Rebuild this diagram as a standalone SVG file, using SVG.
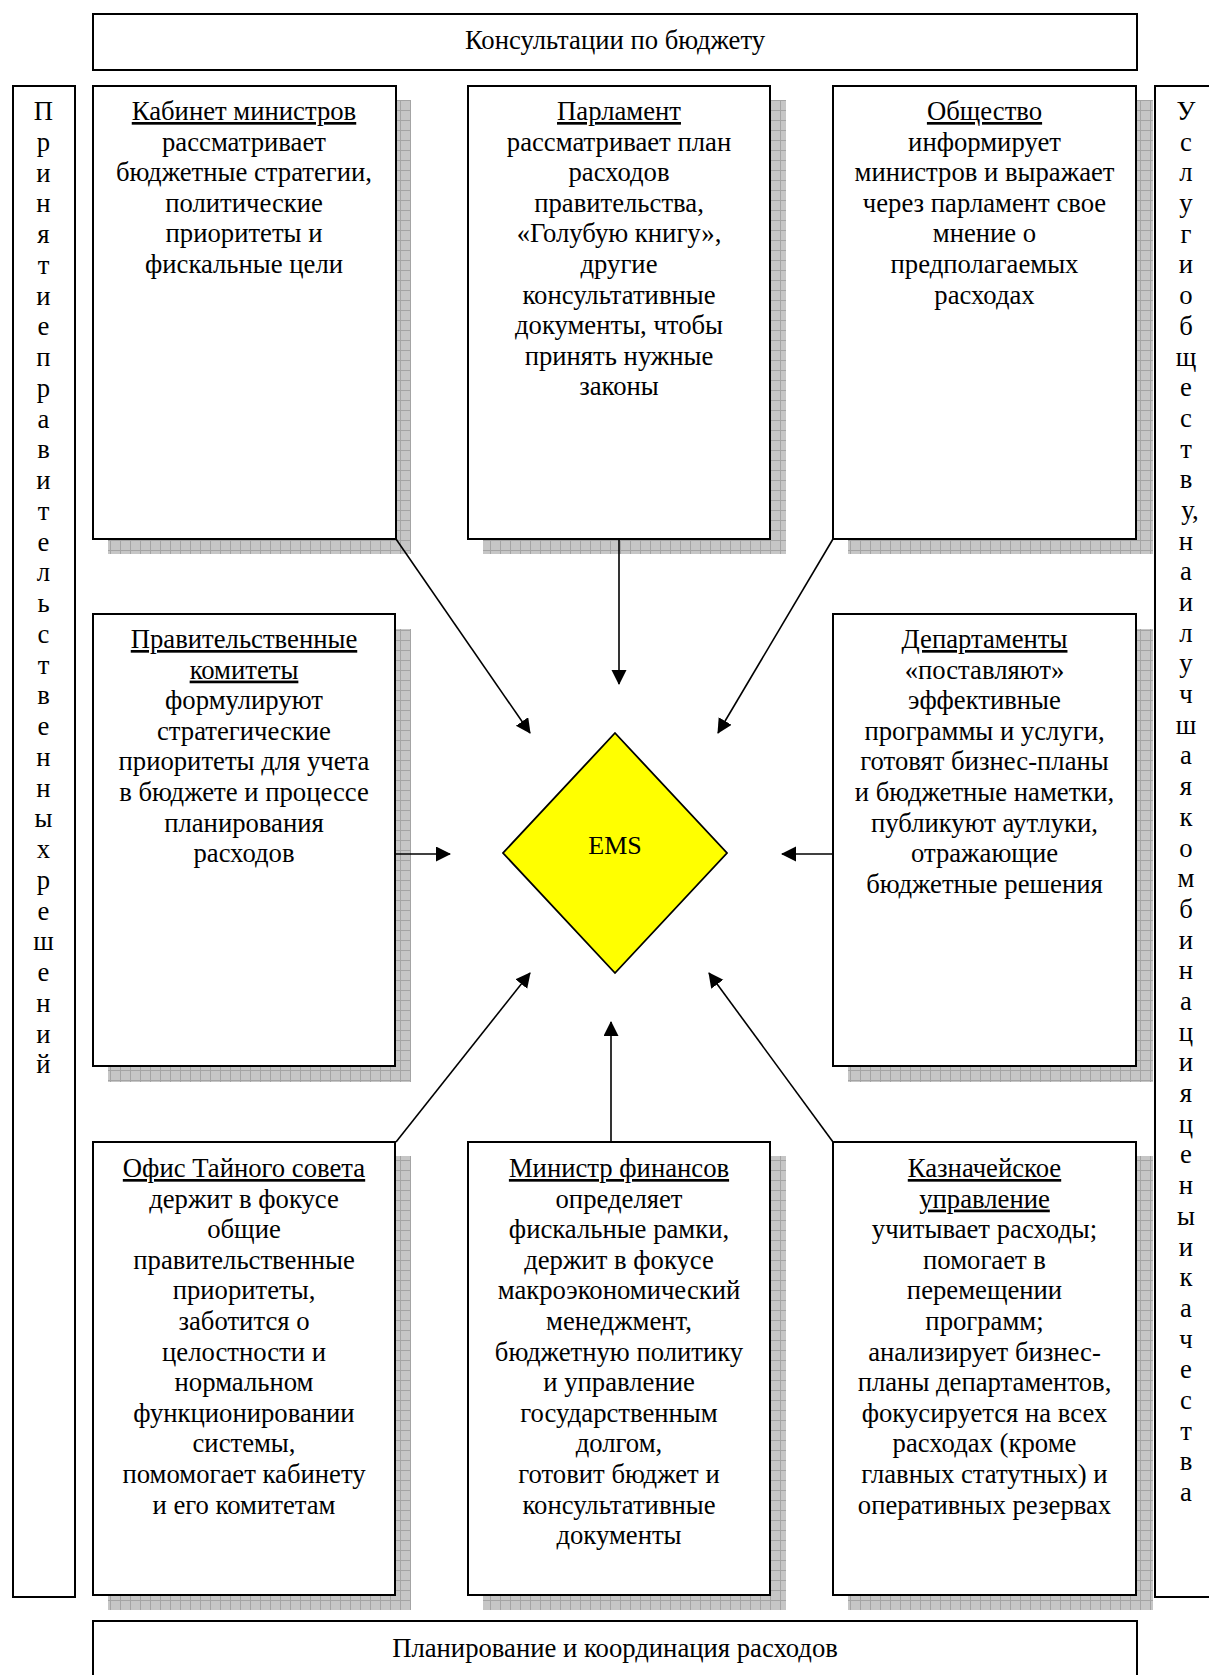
<svg xmlns="http://www.w3.org/2000/svg" width="1209" height="1675" viewBox="0 0 1209 1675">
<style>
  .box{fill:#fff;stroke:#000;stroke-width:2}
  .sh{fill:url(#grid)}
  .t{font-family:"Liberation Serif","Times New Roman",serif;font-size:26.7px;fill:#000;text-anchor:middle}
  .u{text-decoration:underline}
  .c{stroke:#000;stroke-width:1.6;fill:none;marker-end:url(#ah)}
</style>
<defs>
  <pattern id="grid" patternUnits="userSpaceOnUse" width="10" height="10">
    <rect width="10" height="10" fill="#c6c6c6"/>
    <path d="M0,0.5H10M0.5,0V10" stroke="#a4a4a4" stroke-width="1"/>
  </pattern>
  <marker id="ah" markerUnits="userSpaceOnUse" markerWidth="16" markerHeight="16" refX="14" refY="7.5" orient="auto">
    <path d="M0,0L15,7.5L0,15z" fill="#000"/>
  </marker>
</defs>
<rect width="1209" height="1675" fill="#fff"/>

<g id="top">
  <rect class="box" x="93" y="14" width="1044" height="56"/>
  <text class="t" x="615" y="48.5">Консультации по бюджету</text>
</g>
<g id="bottom">
  <rect class="box" x="93" y="1621" width="1044" height="70"/>
  <text class="t" x="615" y="1657">Планирование и координация расходов</text>
</g>
<g id="leftbar">
  <rect class="box" x="13" y="86" width="62" height="1511"/>
  <text class="t" x="43.5" y="120"><tspan x="43.5">П</tspan><tspan x="43.5" dy="30.75">р</tspan><tspan x="43.5" dy="30.75">и</tspan><tspan x="43.5" dy="30.75">н</tspan><tspan x="43.5" dy="30.75">я</tspan><tspan x="43.5" dy="30.75">т</tspan><tspan x="43.5" dy="30.75">и</tspan><tspan x="43.5" dy="30.75">е</tspan><tspan x="43.5" dy="30.75">п</tspan><tspan x="43.5" dy="30.75">р</tspan><tspan x="43.5" dy="30.75">а</tspan><tspan x="43.5" dy="30.75">в</tspan><tspan x="43.5" dy="30.75">и</tspan><tspan x="43.5" dy="30.75">т</tspan><tspan x="43.5" dy="30.75">е</tspan><tspan x="43.5" dy="30.75">л</tspan><tspan x="43.5" dy="30.75">ь</tspan><tspan x="43.5" dy="30.75">с</tspan><tspan x="43.5" dy="30.75">т</tspan><tspan x="43.5" dy="30.75">в</tspan><tspan x="43.5" dy="30.75">е</tspan><tspan x="43.5" dy="30.75">н</tspan><tspan x="43.5" dy="30.75">н</tspan><tspan x="43.5" dy="30.75">ы</tspan><tspan x="43.5" dy="30.75">х</tspan><tspan x="43.5" dy="30.75">р</tspan><tspan x="43.5" dy="30.75">е</tspan><tspan x="43.5" dy="30.75">ш</tspan><tspan x="43.5" dy="30.75">е</tspan><tspan x="43.5" dy="30.75">н</tspan><tspan x="43.5" dy="30.75">и</tspan><tspan x="43.5" dy="30.75">й</tspan></text>
</g>
<g id="rightbar">
  <rect class="box" x="1155" y="86" width="70" height="1511"/>
  <text class="t" x="1186" y="120"><tspan x="1186">У</tspan><tspan x="1186" dy="30.69">с</tspan><tspan x="1186" dy="30.69">л</tspan><tspan x="1186" dy="30.69">у</tspan><tspan x="1186" dy="30.69">г</tspan><tspan x="1186" dy="30.69">и</tspan><tspan x="1186" dy="30.69">о</tspan><tspan x="1186" dy="30.69">б</tspan><tspan x="1186" dy="30.69">щ</tspan><tspan x="1186" dy="30.69">е</tspan><tspan x="1186" dy="30.69">с</tspan><tspan x="1186" dy="30.69">т</tspan><tspan x="1186" dy="30.69">в</tspan><tspan x="1190" dy="30.69">у,</tspan><tspan x="1186" dy="30.69">н</tspan><tspan x="1186" dy="30.69">а</tspan><tspan x="1186" dy="30.69">и</tspan><tspan x="1186" dy="30.69">л</tspan><tspan x="1186" dy="30.69">у</tspan><tspan x="1186" dy="30.69">ч</tspan><tspan x="1186" dy="30.69">ш</tspan><tspan x="1186" dy="30.69">а</tspan><tspan x="1186" dy="30.69">я</tspan><tspan x="1186" dy="30.69">к</tspan><tspan x="1186" dy="30.69">о</tspan><tspan x="1186" dy="30.69">м</tspan><tspan x="1186" dy="30.69">б</tspan><tspan x="1186" dy="30.69">и</tspan><tspan x="1186" dy="30.69">н</tspan><tspan x="1186" dy="30.69">а</tspan><tspan x="1186" dy="30.69">ц</tspan><tspan x="1186" dy="30.69">и</tspan><tspan x="1186" dy="30.69">я</tspan><tspan x="1186" dy="30.69">ц</tspan><tspan x="1186" dy="30.69">е</tspan><tspan x="1186" dy="30.69">н</tspan><tspan x="1186" dy="30.69">ы</tspan><tspan x="1186" dy="30.69">и</tspan><tspan x="1186" dy="30.69">к</tspan><tspan x="1186" dy="30.69">а</tspan><tspan x="1186" dy="30.69">ч</tspan><tspan x="1186" dy="30.69">е</tspan><tspan x="1186" dy="30.69">с</tspan><tspan x="1186" dy="30.69">т</tspan><tspan x="1186" dy="30.69">в</tspan><tspan x="1186" dy="30.69">а</tspan></text>
</g>

<g id="kabinet">
  <rect class="sh" x="108" y="100" width="303" height="454"/>
  <rect class="box" x="93" y="86" width="303" height="453"/>
  <text class="t" x="244" y="120"><tspan x="244" class="u">Кабинет министров</tspan><tspan x="244" dy="30.6">рассматривает</tspan><tspan x="244" dy="30.6">бюджетные стратегии,</tspan><tspan x="244" dy="30.6">политические</tspan><tspan x="244" dy="30.6">приоритеты и</tspan><tspan x="244" dy="30.6">фискальные цели</tspan></text>
</g>
<g id="parlament">
  <rect class="sh" x="483" y="100" width="303" height="454"/>
  <rect class="box" x="468" y="86" width="302" height="453"/>
  <text class="t" x="619" y="120"><tspan x="619" class="u">Парламент</tspan><tspan x="619" dy="30.6">рассматривает план</tspan><tspan x="619" dy="30.6">расходов</tspan><tspan x="619" dy="30.6">правительства,</tspan><tspan x="619" dy="30.6">«Голубую книгу»,</tspan><tspan x="619" dy="30.6">другие</tspan><tspan x="619" dy="30.6">консультативные</tspan><tspan x="619" dy="30.6">документы, чтобы</tspan><tspan x="619" dy="30.6">принять нужные</tspan><tspan x="619" dy="30.6">законы</tspan></text>
</g>
<g id="obshchestvo">
  <rect class="sh" x="848" y="100" width="305" height="454"/>
  <rect class="box" x="833" y="86" width="303" height="453"/>
  <text class="t" x="984.5" y="120"><tspan x="984.5" class="u">Общество</tspan><tspan x="984.5" dy="30.6">информирует</tspan><tspan x="984.5" dy="30.6">министров и выражает</tspan><tspan x="984.5" dy="30.6">через парламент свое</tspan><tspan x="984.5" dy="30.6">мнение о</tspan><tspan x="984.5" dy="30.6">предполагаемых</tspan><tspan x="984.5" dy="30.6">расходах</tspan></text>
</g>

<g id="komitety">
  <rect class="sh" x="108" y="629" width="303" height="453"/>
  <rect class="box" x="93" y="614" width="302" height="452"/>
  <text class="t" x="244" y="648"><tspan x="244" class="u">Правительственные</tspan><tspan x="244" dy="30.6" class="u">комитеты</tspan><tspan x="244" dy="30.6">формулируют</tspan><tspan x="244" dy="30.6">стратегические</tspan><tspan x="244" dy="30.6">приоритеты для учета</tspan><tspan x="244" dy="30.6">в бюджете и процессе</tspan><tspan x="244" dy="30.6">планирования</tspan><tspan x="244" dy="30.6">расходов</tspan></text>
</g>
<g id="departamenty">
  <rect class="sh" x="848" y="629" width="305" height="453"/>
  <rect class="box" x="833" y="614" width="303" height="452"/>
  <text class="t" x="984.5" y="648"><tspan x="984.5" class="u">Департаменты</tspan><tspan x="984.5" dy="30.6">«поставляют»</tspan><tspan x="984.5" dy="30.6">эффективные</tspan><tspan x="984.5" dy="30.6">программы и услуги,</tspan><tspan x="984.5" dy="30.6">готовят бизнес-планы</tspan><tspan x="984.5" dy="30.6">и бюджетные наметки,</tspan><tspan x="984.5" dy="30.6">публикуют аутлуки,</tspan><tspan x="984.5" dy="30.6">отражающие</tspan><tspan x="984.5" dy="30.6">бюджетные решения</tspan></text>
</g>

<g id="ems">
  <polygon points="615,733 727,853 615,973 503,853" fill="#ffff00" stroke="#000" stroke-width="1.8"/>
  <text class="t" x="615" y="854" style="font-size:26px">EMS</text>
</g>

<g id="ofis">
  <rect class="sh" x="108" y="1156" width="303" height="454"/>
  <rect class="box" x="93" y="1142" width="302" height="453"/>
  <text class="t" x="244" y="1177"><tspan x="244" class="u">Офис Тайного совета</tspan><tspan x="244" dy="30.6">держит в фокусе</tspan><tspan x="244" dy="30.6">общие</tspan><tspan x="244" dy="30.6">правительственные</tspan><tspan x="244" dy="30.6">приоритеты,</tspan><tspan x="244" dy="30.6">заботится о</tspan><tspan x="244" dy="30.6">целостности и</tspan><tspan x="244" dy="30.6">нормальном</tspan><tspan x="244" dy="30.6">функционировании</tspan><tspan x="244" dy="30.6">системы,</tspan><tspan x="244" dy="30.6">помомогает кабинету</tspan><tspan x="244" dy="30.6">и его комитетам</tspan></text>
</g>
<g id="minfin">
  <rect class="sh" x="483" y="1156" width="303" height="454"/>
  <rect class="box" x="468" y="1142" width="302" height="453"/>
  <text class="t" x="619" y="1177"><tspan x="619" class="u">Министр финансов</tspan><tspan x="619" dy="30.6">определяет</tspan><tspan x="619" dy="30.6">фискальные рамки,</tspan><tspan x="619" dy="30.6">держит в фокусе</tspan><tspan x="619" dy="30.6">макроэкономический</tspan><tspan x="619" dy="30.6">менеджмент,</tspan><tspan x="619" dy="30.6">бюджетную политику</tspan><tspan x="619" dy="30.6">и управление</tspan><tspan x="619" dy="30.6">государственным</tspan><tspan x="619" dy="30.6">долгом,</tspan><tspan x="619" dy="30.6">готовит бюджет и</tspan><tspan x="619" dy="30.6">консультативные</tspan><tspan x="619" dy="30.6">документы</tspan></text>
</g>
<g id="kaznach">
  <rect class="sh" x="848" y="1156" width="305" height="454"/>
  <rect class="box" x="833" y="1142" width="303" height="453"/>
  <text class="t" x="984.5" y="1177"><tspan x="984.5" class="u">Казначейское</tspan><tspan x="984.5" dy="30.6" class="u">управление</tspan><tspan x="984.5" dy="30.6">учитывает расходы;</tspan><tspan x="984.5" dy="30.6">помогает в</tspan><tspan x="984.5" dy="30.6">перемещении</tspan><tspan x="984.5" dy="30.6">программ;</tspan><tspan x="984.5" dy="30.6">анализирует бизнес-</tspan><tspan x="984.5" dy="30.6">планы департаментов,</tspan><tspan x="984.5" dy="30.6">фокусируется на всех</tspan><tspan x="984.5" dy="30.6">расходах (кроме</tspan><tspan x="984.5" dy="30.6">главных статутных) и</tspan><tspan x="984.5" dy="30.6">оперативных резервах</tspan></text>
</g>

<g id="connectors">
  <line class="c" x1="396" y1="539" x2="530" y2="733"/>
  <line class="c" x1="619" y1="539" x2="619" y2="684"/>
  <line class="c" x1="833" y1="539" x2="718" y2="733"/>
  <line class="c" x1="395" y1="854" x2="450" y2="854"/>
  <line class="c" x1="833" y1="854" x2="782" y2="854"/>
  <line class="c" x1="396" y1="1142" x2="530" y2="973"/>
  <line class="c" x1="611" y1="1142" x2="611" y2="1022"/>
  <line class="c" x1="833" y1="1142" x2="709" y2="973"/>
</g>
</svg>
